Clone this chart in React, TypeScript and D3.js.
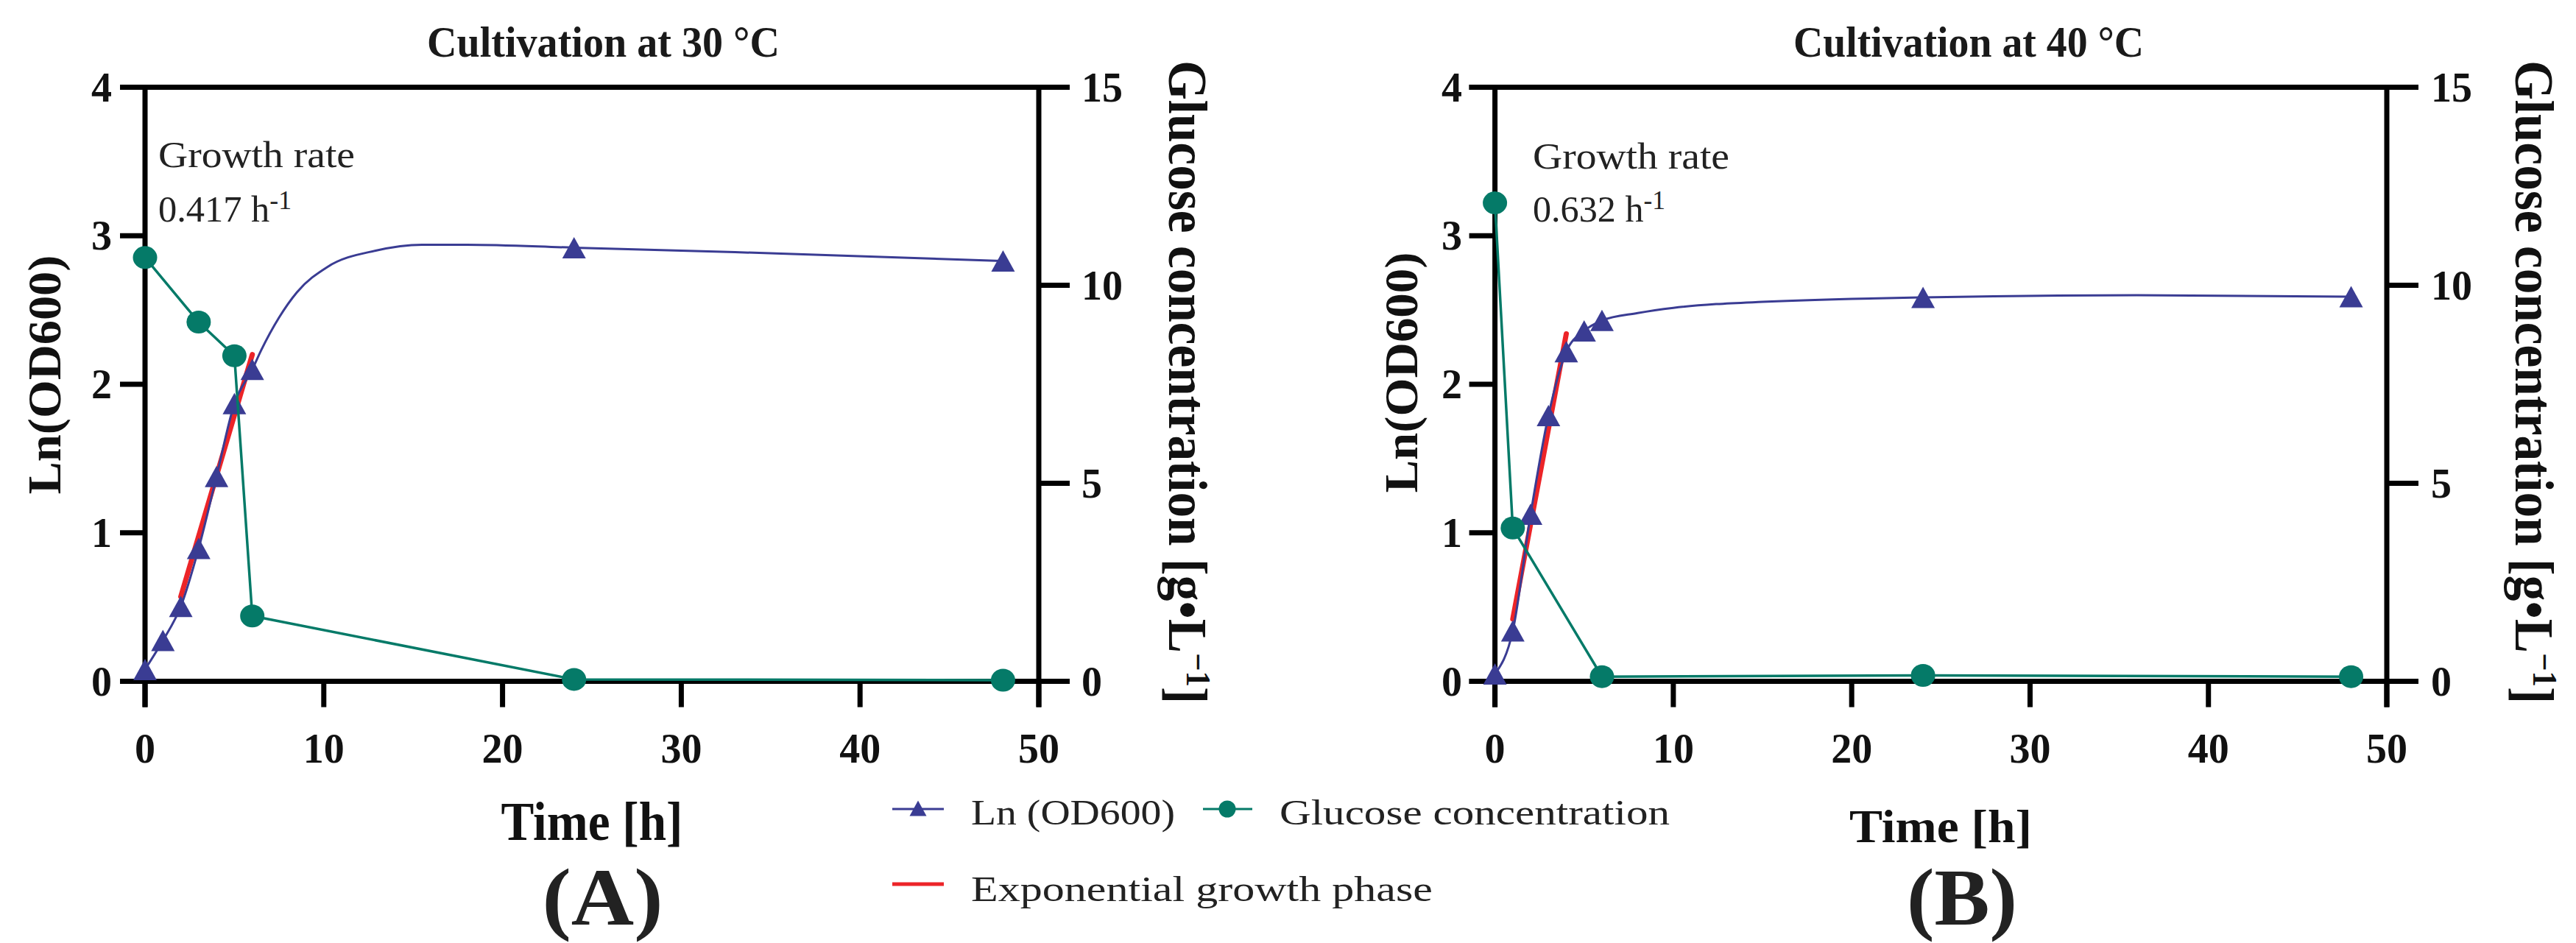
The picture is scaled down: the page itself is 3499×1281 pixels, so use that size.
import React from "react";
import * as d3 from "d3";

// ---------- data ----------
const timeTicks = [0, 10, 20, 30, 40, 50];
const lnTicks = [0, 1, 2, 3, 4];
const glucoseTicks = [0, 5, 10, 15];

// Panel A: 30 °C
const timeA = [0, 1, 2, 3, 4, 5, 6, 24, 48];
const lnOdA = [0.08, 0.275, 0.505, 0.895, 1.38, 1.87, 2.1, 2.92, 2.83];
const fitTimeA = [6.5, 7.5, 8.5, 10.2, 12.9, 15.5, 18, 33];
const fitLnA = [2.23, 2.45, 2.62, 2.79, 2.9, 2.94, 2.94, 2.89];
const glucoseTimeA = [0, 3, 5, 6, 24, 48];
const glucoseA = [10.7, 9.07, 8.22, 1.65, 0.05, 0.03];
const expTimeA = [2, 6];
const expLnA = [0.57, 2.2];

// Panel B: 40 °C
const timeB = [0, 1, 2, 3, 4, 5, 6, 24, 48];
const lnOdB = [0.05, 0.34, 1.125, 1.79, 2.22, 2.36, 2.43, 2.585, 2.59];
const fitTimeB = [8, 10, 12.4, 15, 20, 36];
const fitLnB = [2.48, 2.515, 2.54, 2.555, 2.575, 2.6];
const glucoseTimeB = [0, 1, 6, 24, 48];
const glucoseB = [12.08, 3.87, 0.12, 0.15, 0.12];
const expTimeB = [1, 4];
const expLnB = [0.42, 2.34];

const titles = ["Cultivation at 30 °C", "Cultivation at 40 °C"];
const rates = ["0.417", "0.632"];
const letters = ["(A)", "(B)"];
const legendLabels = ["Ln (OD600)", "Glucose concentration", "Exponential growth phase"];

// ---------- styling ----------
const W = 3499;
const H = 1281;
const FONT = "'Liberation Serif', 'DejaVu Serif', serif";
const BLUE = "#3a3c93";
const GREEN = "#057a68";
const RED = "#ec2428";
const Y_TOP = 118.5;
const Y_BOT = 925.6;
const AXW = 7;

const layouts = [
  {
    x0: 197, x1: 1411, lTick: 34, rTick: 42, bTick: 35,
    lLabelX: 152, rLabelX: 1469,
    lTitle: { x: 82, y: 509, len: 325 },
    rTitle: { x: 1588, y: 519, len: 874 },
    title: { x: 819.5, y: 77, len: 479 },
    time: { x: 804, y: 1141, len: 247, size: 74 },
    letter: { x: 818.5, y: 1256, len: 164, size: 110 },
    growth: { x: 215, y1: 227, y2: 301, len1: 267, len2: 181 },
  },
  {
    x0: 2030.6, x1: 3242, lTick: 35, rTick: 43, bTick: 35,
    lLabelX: 1986, rLabelX: 3302,
    lTitle: { x: 1925, y: 506, len: 327 },
    rTitle: { x: 3417, y: 519, len: 874 },
    title: { x: 2674, y: 77, len: 476 },
    time: { x: 2636, y: 1144, len: 248, size: 64 },
    letter: { x: 2665, y: 1256, len: 150, size: 110 },
    growth: { x: 2082, y1: 229, y2: 301, len1: 267, len2: 180 },
  },
];

const panelsData = [
  { time: timeA, ln: lnOdA, fitT: fitTimeA, fitL: fitLnA, gT: glucoseTimeA, g: glucoseA, eT: expTimeA, eL: expLnA },
  { time: timeB, ln: lnOdB, fitT: fitTimeB, fitL: fitLnB, gT: glucoseTimeB, g: glucoseB, eT: expTimeB, eL: expLnB },
];

function tri(cx: number, cy: number, w: number, h: number) {
  return `M${cx},${cy - h / 2}L${cx + w / 2},${cy + h / 2}L${cx - w / 2},${cy + h / 2}Z`;
}

function Panel({ idx }: { idx: number }) {
  const L = layouts[idx];
  const D = panelsData[idx];
  const x = d3.scaleLinear().domain([0, 50]).range([L.x0, L.x1]);
  const yL = d3.scaleLinear().domain([0, 4]).range([Y_BOT, Y_TOP]);
  const yR = d3.scaleLinear().domain([0, 15]).range([Y_BOT, Y_TOP]);

  const bluePts: [number, number][] = d3.sort(
    [
      ...D.time.map((t, i) => [t, D.ln[i]] as [number, number]),
      ...D.fitT.map((t, i) => [t, D.fitL[i]] as [number, number]),
    ],
    (d) => d[0]
  );
  const blueLine = d3
    .line<[number, number]>()
    .x((d) => x(d[0]))
    .y((d) => yL(d[1]))
    .curve(d3.curveMonotoneX)(bluePts);
  const greenLine = d3
    .line<number>()
    .x((t) => x(t))
    .y((_, i) => yR(D.g[i]))(D.gT);
  const redLine = d3
    .line<number>()
    .x((t) => x(t))
    .y((_, i) => yL(D.eL[i]))(D.eT);

  return (
    <g>
      {/* title */}
      <text x={L.title.x} y={L.title.y} textAnchor="middle" fontSize={59} fontWeight="bold"
        textLength={L.title.len} lengthAdjust="spacingAndGlyphs" fill="#1a1a1a">{titles[idx]}</text>

      {/* axes frame */}
      <g stroke="#000" strokeWidth={AXW} fill="none">
        <line x1={L.x0 - L.lTick} x2={L.x1 + L.rTick} y1={Y_TOP} y2={Y_TOP} />
        <line x1={L.x0 - L.lTick} x2={L.x1 + L.rTick} y1={Y_BOT} y2={Y_BOT} />
        <line x1={L.x0} x2={L.x0} y1={Y_TOP - AXW / 2} y2={Y_BOT + L.bTick} />
        <line x1={L.x1} x2={L.x1} y1={Y_TOP - AXW / 2} y2={Y_BOT + L.bTick} />
        {lnTicks.map((v) => (
          <line key={"l" + v} x1={L.x0 - L.lTick} x2={L.x0} y1={yL(v)} y2={yL(v)} />
        ))}
        {glucoseTicks.map((v) => (
          <line key={"r" + v} x1={L.x1} x2={L.x1 + L.rTick} y1={yR(v)} y2={yR(v)} />
        ))}
        {timeTicks.map((v) => (
          <line key={"b" + v} x1={x(v)} x2={x(v)} y1={Y_BOT} y2={Y_BOT + L.bTick} />
        ))}
      </g>

      {/* tick labels */}
      <g fontSize={56} fontWeight="bold" fill="#111">
        {lnTicks.map((v) => (
          <text key={"lt" + v} x={L.lLabelX} y={yL(v) + 19} textAnchor="end">{v}</text>
        ))}
        {glucoseTicks.map((v) => (
          <text key={"rt" + v} x={L.rLabelX} y={yR(v) + 19} textAnchor="start">{v}</text>
        ))}
        {timeTicks.map((v) => (
          <text key={"bt" + v} x={x(v)} y={1036} textAnchor="middle">{v}</text>
        ))}
      </g>

      {/* axis titles */}
      <text transform={`translate(${L.lTitle.x},${L.lTitle.y}) rotate(-90)`} textAnchor="middle"
        fontSize={63} fontWeight="bold" textLength={L.lTitle.len} lengthAdjust="spacingAndGlyphs"
        fill="#111">Ln(OD600)</text>
      <text transform={`translate(${L.rTitle.x},${L.rTitle.y}) rotate(90)`} textAnchor="middle"
        fontSize={74} fontWeight="bold" textLength={L.rTitle.len} lengthAdjust="spacingAndGlyphs"
        fill="#111">
        Glucose concentration [g•L<tspan dy={-24} fontSize={46}>−1</tspan><tspan dy={24}>]</tspan>
      </text>
      <text x={L.time.x} y={L.time.y} textAnchor="middle" fontSize={L.time.size} fontWeight="bold"
        textLength={L.time.len} lengthAdjust="spacingAndGlyphs" fill="#111">Time [h]</text>
      <text x={L.letter.x} y={L.letter.y} textAnchor="middle" fontSize={L.letter.size} fontWeight="bold"
        textLength={L.letter.len} lengthAdjust="spacingAndGlyphs" fill="#222">{letters[idx]}</text>

      {/* growth rate annotation */}
      <text x={L.growth.x} y={L.growth.y1} fontSize={51} textLength={L.growth.len1}
        lengthAdjust="spacingAndGlyphs" fill="#222">Growth rate</text>
      <text x={L.growth.x} y={L.growth.y2} fontSize={51} textLength={L.growth.len2}
        lengthAdjust="spacingAndGlyphs" fill="#222">
        {rates[idx]} h<tspan dy={-17} fontSize={36}>-1</tspan>
      </text>

      {/* data */}
      <path d={redLine ?? ""} fill="none" stroke={RED} strokeWidth={7} strokeLinecap="round" />
      <path d={blueLine ?? ""} fill="none" stroke={BLUE} strokeWidth={3} />
      {D.time.map((t, i) => (
        <path key={"tr" + i} d={tri(x(t), yL(D.ln[i]), 32, 29)} fill={BLUE} />
      ))}
      <path d={greenLine ?? ""} fill="none" stroke={GREEN} strokeWidth={3.5} />
      {D.gT.map((t, i) => (
        <ellipse key={"gc" + i} cx={x(t)} cy={yR(D.g[i])} rx={16.5} ry={15.5} fill={GREEN} />
      ))}
    </g>
  );
}

function Legend() {
  const rows = [1099, 1201];
  return (
    <g fontSize={49} fill="#222">
      <line x1={1212} x2={1282} y1={rows[0]} y2={rows[0]} stroke={BLUE} strokeWidth={3} />
      <path d={tri(1247, rows[0] - 1, 23, 21)} fill={BLUE} />
      <text x={1319} y={rows[0] + 21} textLength={277} lengthAdjust="spacingAndGlyphs">{legendLabels[0]}</text>
      <line x1={1634} x2={1701} y1={rows[0]} y2={rows[0]} stroke={GREEN} strokeWidth={3} />
      <ellipse cx={1667} cy={rows[0]} rx={11.5} ry={11.5} fill={GREEN} />
      <text x={1738} y={rows[0] + 21} textLength={530} lengthAdjust="spacingAndGlyphs">{legendLabels[1]}</text>
      <line x1={1212} x2={1282} y1={rows[1]} y2={rows[1]} stroke={RED} strokeWidth={5} />
      <text x={1319} y={rows[1] + 23} textLength={627} lengthAdjust="spacingAndGlyphs">{legendLabels[2]}</text>
    </g>
  );
}

export default function App() {
  return (
    <svg width={W} height={H} viewBox={`0 0 ${W} ${H}`} fontFamily={FONT}
      style={{ position: "absolute", left: 0, top: 0, background: "#fff" }}>
      <rect width={W} height={H} fill="#fff" />
      <Panel idx={0} />
      <Panel idx={1} />
      <Legend />
    </svg>
  );
}
